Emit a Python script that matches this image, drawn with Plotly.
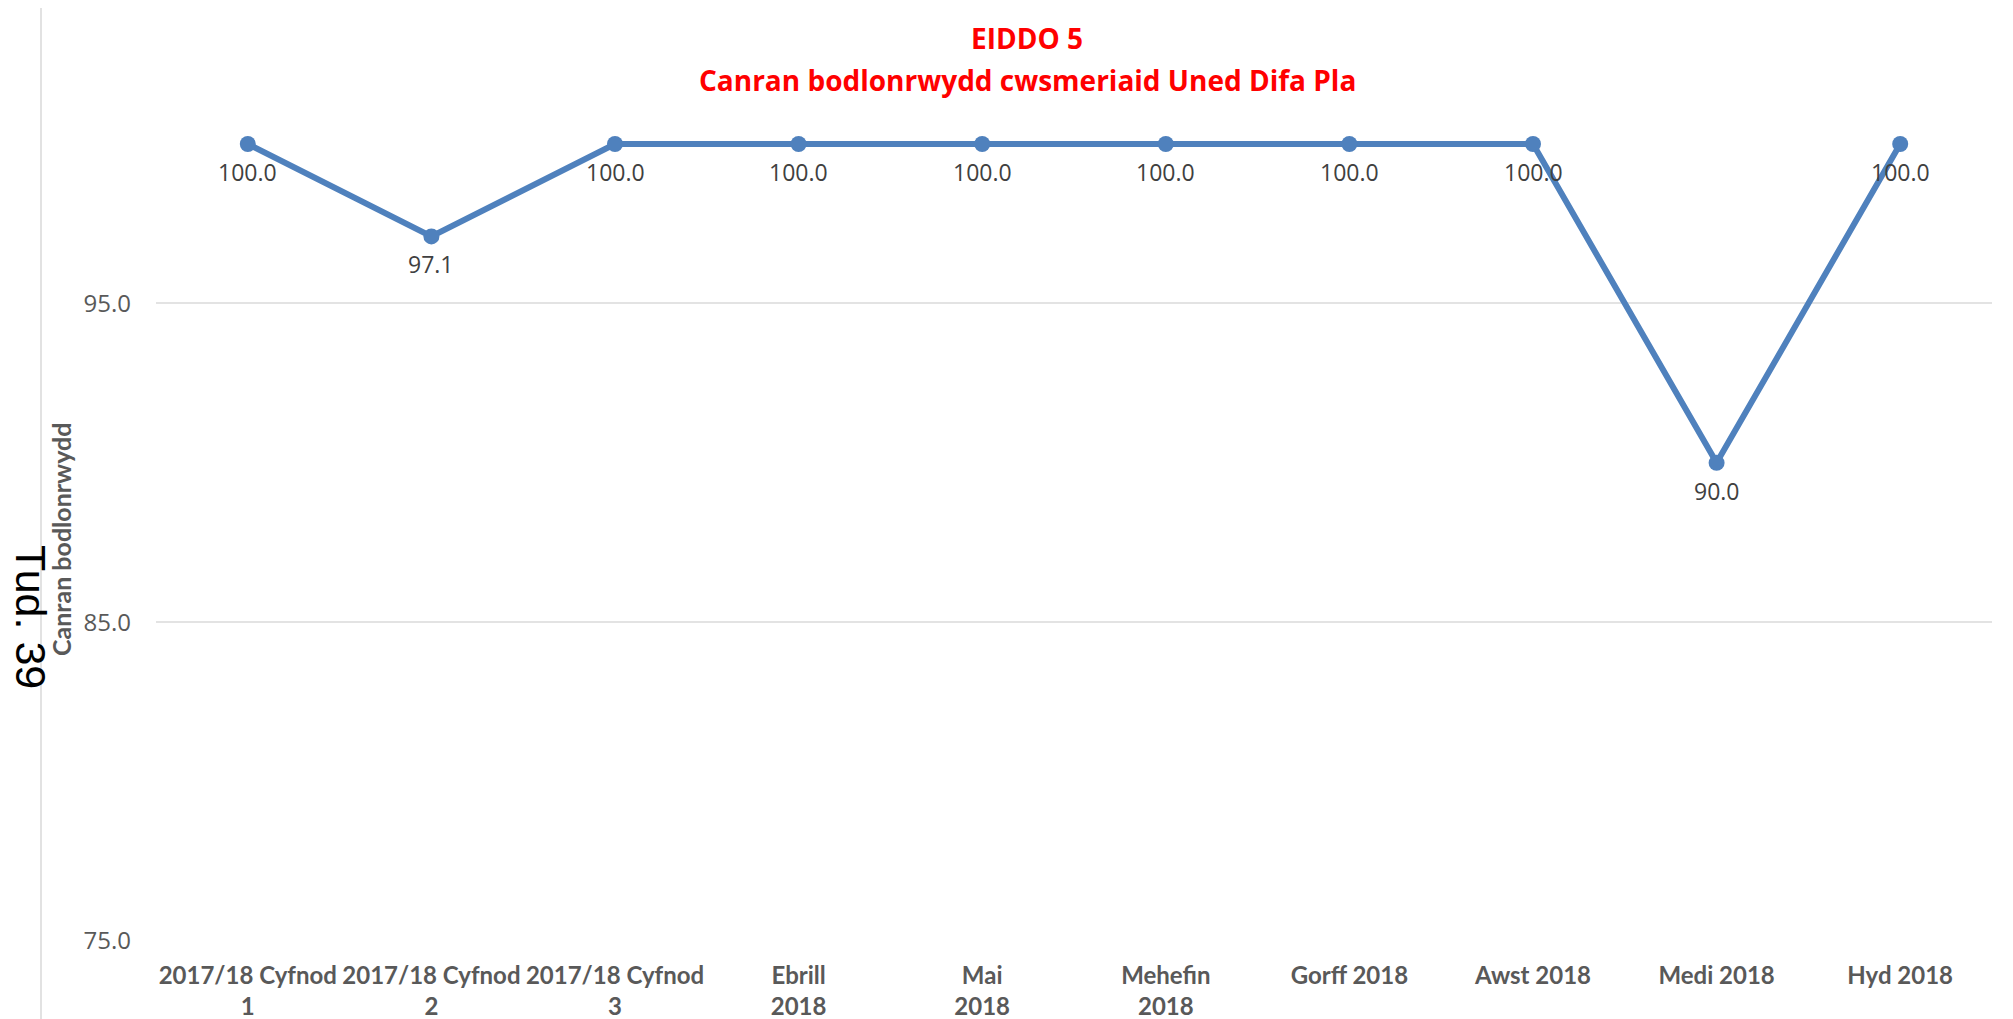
import plotly.graph_objects as go

categories = [
    "2017/18 Cyfnod<br>1", "2017/18 Cyfnod<br>2", "2017/18 Cyfnod<br>3",
    "Ebrill<br>2018", "Mai<br>2018", "Mehefin<br>2018",
    "Gorff 2018", "Awst 2018", "Medi 2018", "Hyd 2018",
]
values = [100.0, 97.1, 100.0, 100.0, 100.0, 100.0, 100.0, 100.0, 90.0, 100.0]
y_ticks = [75.0, 85.0, 95.0]

title_line1 = "EIDDO 5"
title_line2 = "Canran bodlonrwydd cwsmeriaid Uned Difa Pla"
y_title = "Canran bodlonrwydd"
page_note = "Tud. 39"

# page body has an 8px default margin; compensate so content lands where intended
OFF = 8
W, H = 2013 - OFF, 1019 - OFF
L, R, T, B = 156 - OFF, 21, 20 - OFF, 78

pw, ph = W - L - R, H - T - B
def px_x(x):
    return (x - OFF - L) / pw
def px_y(y):
    return (H - B - (y - OFF)) / ph

BLUE = "#4F81BD"

fig = go.Figure()
fig.add_trace(go.Scatter(
    x=list(range(len(categories))),
    y=values,
    mode="lines+markers",
    line=dict(color=BLUE, width=6),
    marker=dict(color=BLUE, size=16),
    cliponaxis=False,
    showlegend=False,
    hoverinfo="skip",
))

# data labels below each point
for i, v in enumerate(values):
    fig.add_annotation(
        x=i, y=v, xref="x", yref="y",
        text=f"{v:.1f}", showarrow=False,
        xanchor="center", yanchor="middle", yshift=-28,
        font=dict(family="Open Sans", size=23, color="#404040"),
    )

fig.update_layout(
    template="none",
    width=W, height=H,
    margin=dict(l=L, r=R, t=T, b=B, autoexpand=False),
    paper_bgcolor="white",
    plot_bgcolor="white",
    showlegend=False,
    xaxis=dict(
        range=[-0.5, len(categories) - 0.5],
        tickmode="array",
        tickvals=list(range(len(categories))),
        ticktext=[f"<b>{c}</b>" for c in categories],
        tickangle=0,
        tickfont=dict(family="Lato", size=24, color="#595959"),
        showgrid=False,
        zeroline=False,
        showline=False,
        ticks="",
        ticklabelstandoff=18,
        automargin=False,
        fixedrange=True,
    ),
    yaxis=dict(
        range=[75, 103.89],
        tickmode="array",
        tickvals=y_ticks,
        ticktext=[f"{v:.1f}" for v in y_ticks],
        tickfont=dict(family="Open Sans", size=24, color="#595959"),
        showgrid=True,
        gridcolor="#E3E3E3",
        gridwidth=1.5,
        zeroline=False,
        showline=False,
        ticks="",
        ticklabelstandoff=24,
        automargin=False,
        fixedrange=True,
    ),
)

# chart title (two red bold lines)
for txt, yc in ((title_line1, 38), (title_line2, 80)):
    fig.add_annotation(
        text=f"<b>{txt}</b>",
        xref="paper", yref="paper",
        x=px_x(1027), y=px_y(yc),
        xanchor="center", yanchor="middle",
        showarrow=False, align="center",
        font=dict(family="Open Sans", size=28, color="#FF0000"),
    )

# y-axis title (bold gray, rotated)
fig.add_annotation(
    text=f"<b>{y_title}</b>",
    xref="paper", yref="paper",
    x=px_x(61), y=px_y(540),
    xanchor="center", yanchor="middle",
    textangle=-90, showarrow=False,
    font=dict(family="Lato", size=25, color="#595959"),
)

# page note rotated clockwise
fig.add_annotation(
    text=page_note,
    xref="paper", yref="paper",
    x=px_x(31), y=px_y(617),
    xanchor="center", yanchor="middle",
    textangle=90, showarrow=False,
    font=dict(family="Liberation Sans", size=43, color="#000000"),
)

# chart border (top and left edges visible)
fig.add_shape(type="line", xref="paper", yref="paper",
              x0=px_x(41), x1=px_x(2030), y0=px_y(6), y1=px_y(6),
              line=dict(color="#D9D9D9", width=1.5))
fig.add_shape(type="line", xref="paper", yref="paper",
              x0=px_x(41), x1=px_x(41), y0=px_y(6), y1=px_y(1040),
              line=dict(color="#D9D9D9", width=1.5))

fig.write_html("out.html", config={"displayModeBar": False})
